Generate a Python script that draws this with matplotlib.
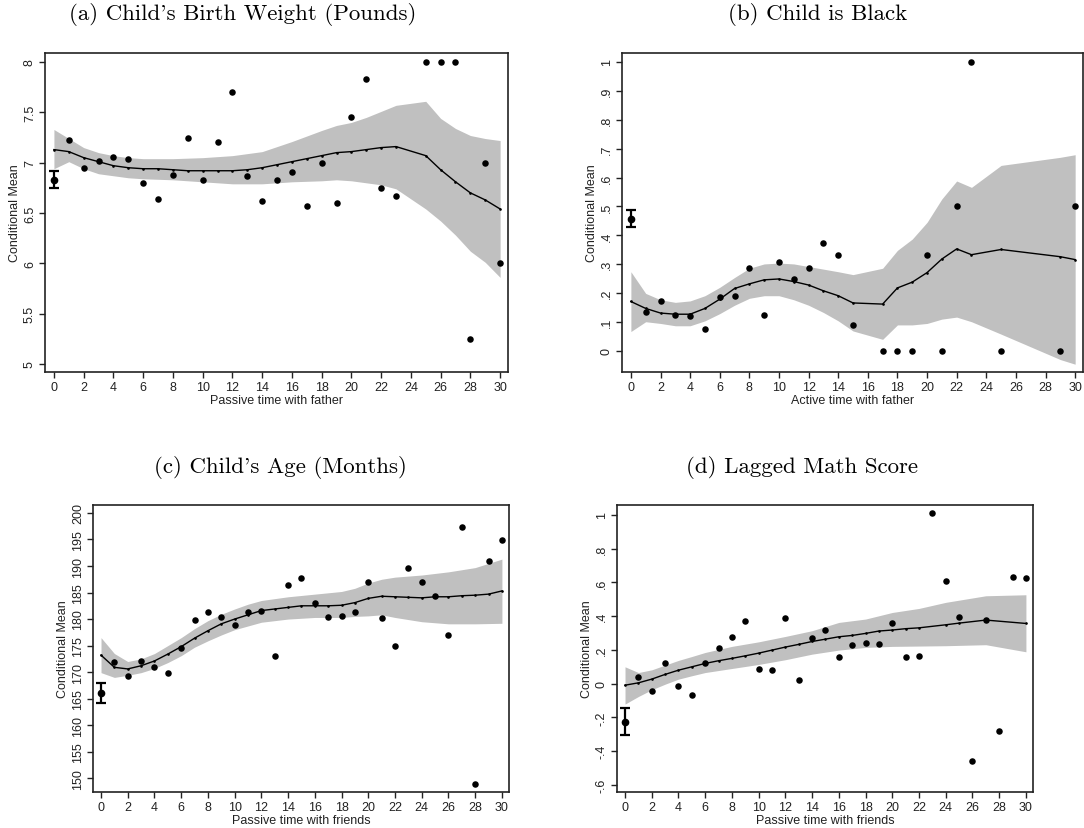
import numpy as np
import matplotlib
matplotlib.use("Agg")
import matplotlib.pyplot as plt

plt.rcParams["font.family"] = ["Liberation Sans", "DejaVu Sans"]

# ---------- data ----------
# (a) Child's Birth Weight (Pounds)
a_px = [1, 2, 3, 4, 5, 6, 7, 8, 9, 10, 11, 12, 13, 14, 15, 16, 17, 18, 19, 20,
        21, 22, 23, 25, 26, 27, 28, 29, 30]
a_py = [7.23, 6.95, 7.02, 7.06, 7.04, 6.80, 6.64, 6.88, 7.25, 6.83, 7.21, 7.70,
        6.87, 6.62, 6.83, 6.91, 6.57, 7.00, 6.60, 7.45, 7.83, 6.75, 6.67,
        8.0, 8.0, 8.0, 5.25, 7.0, 6.0]
a_lx = [0, 1, 2, 3, 4, 5, 6, 7, 8, 9, 10, 11, 12, 13, 14, 15, 16, 17, 18, 19,
        20, 21, 22, 23, 25, 26, 27, 28, 29, 30]
a_ly = [7.13, 7.11, 7.05, 7.01, 6.97, 6.95, 6.94, 6.94, 6.93, 6.92, 6.92, 6.92,
        6.92, 6.93, 6.95, 6.98, 7.01, 7.04, 7.07, 7.10, 7.11, 7.13, 7.15, 7.16,
        7.07, 6.93, 6.81, 6.70, 6.63, 6.54]
a_bx = [0, 1, 2, 3, 4, 5, 6, 8, 10, 12, 14, 16, 18, 19, 20, 21, 22, 23, 25, 26,
        27, 28, 29, 30]
a_hi = [7.33, 7.24, 7.15, 7.10, 7.07, 7.05, 7.04, 7.04, 7.05, 7.07, 7.11, 7.21,
        7.32, 7.37, 7.40, 7.45, 7.51, 7.57, 7.61, 7.44, 7.34, 7.27, 7.24, 7.22]
a_lo = [6.94, 7.01, 6.94, 6.89, 6.87, 6.85, 6.84, 6.83, 6.81, 6.79, 6.79, 6.81,
        6.82, 6.83, 6.82, 6.80, 6.78, 6.74, 6.54, 6.42, 6.28, 6.12, 6.01, 5.86]
a_zero = (6.83, 6.75, 6.92)

# (b) Child is Black
b_px = [1, 2, 3, 4, 5, 6, 7, 8, 9, 10, 11, 12, 13, 14, 15, 17, 18, 19, 20, 21,
        22, 23, 25, 29, 30]
b_py = [0.135, 0.172, 0.124, 0.121, 0.076, 0.186, 0.191, 0.286, 0.125, 0.309,
        0.250, 0.286, 0.375, 0.333, 0.090, 0.0, 0.0, 0.0, 0.333, 0.0,
        0.5, 1.0, 0.0, 0.0, 0.5]
b_lx = [0, 1, 2, 3, 4, 5, 6, 7, 8, 9, 10, 11, 12, 13, 14, 15, 17, 18, 19, 20,
        21, 22, 23, 25, 29, 30]
b_ly = [0.171, 0.147, 0.131, 0.127, 0.127, 0.147, 0.179, 0.216, 0.232, 0.246,
        0.249, 0.240, 0.228, 0.208, 0.191, 0.166, 0.162, 0.218, 0.238, 0.271,
        0.318, 0.353, 0.333, 0.351, 0.326, 0.316]
b_hi = [0.274, 0.199, 0.177, 0.168, 0.173, 0.191, 0.220, 0.254, 0.286, 0.301,
        0.304, 0.301, 0.292, 0.283, 0.274, 0.264, 0.286, 0.348, 0.387, 0.445,
        0.526, 0.588, 0.566, 0.642, 0.670, 0.679]
b_lo = [0.067, 0.101, 0.095, 0.087, 0.087, 0.104, 0.129, 0.158, 0.182, 0.191,
        0.191, 0.177, 0.158, 0.133, 0.104, 0.069, 0.040, 0.090, 0.090, 0.095,
        0.110, 0.117, 0.101, 0.058, -0.030, -0.046]
b_zero = (0.457, 0.429, 0.486)

# (c) Child's Age (Months)
c_px = list(range(1, 31))
c_py = [171.9, 169.2, 172.1, 171.0, 169.8, 174.5, 179.8, 181.3, 180.3, 178.9,
        181.4, 181.6, 173.0, 186.4, 187.7, 183.1, 180.4, 180.6, 181.4, 187.0,
        180.2, 175.0, 189.7, 187.0, 184.3, 177.0, 197.4, 148.9, 191.0, 194.9]
c_lx = list(range(0, 31))
c_ly = [173.2, 170.9, 170.6, 171.2, 172.1, 173.4, 174.8, 176.4, 177.8, 179.1,
        180.0, 180.8, 181.6, 181.9, 182.2, 182.5, 182.5, 182.5, 182.6, 183.1,
        183.9, 184.3, 184.2, 184.1, 184.0, 184.2, 184.2, 184.4, 184.5, 184.7,
        185.3]
c_bx = [0, 1, 2, 3, 4, 5, 6, 7, 8, 9, 10, 11, 12, 14, 16, 18, 19, 20, 21, 22,
        24, 26, 28, 30]
c_hi = [176.5, 173.5, 172.0, 172.5, 173.5, 175.0, 176.5, 178.2, 179.7, 180.9,
        181.9, 182.8, 183.5, 184.2, 184.7, 185.2, 185.8, 186.8, 187.5, 187.9,
        188.3, 188.9, 189.7, 191.3]
c_lo = [169.9, 169.0, 169.4, 169.9, 170.7, 171.8, 173.1, 174.7, 175.9, 177.0,
        178.0, 178.7, 179.4, 180.0, 180.3, 180.3, 180.5, 180.6, 180.8, 180.3,
        179.5, 179.1, 179.1, 179.2]
c_zero = (166.0, 164.2, 168.0)

# (d) Lagged Math Score
d_px = list(range(1, 31))
d_py = [0.039, -0.046, 0.124, -0.013, -0.070, 0.124, 0.213, 0.276, 0.369, 0.088,
        0.082, 0.387, 0.023, 0.272, 0.318, 0.161, 0.229, 0.241, 0.235, 0.361,
        0.161, 0.163, 1.014, 0.608, 0.395, -0.458, 0.379, -0.282, 0.634, 0.628]
d_lx = [0, 1, 2, 3, 4, 5, 6, 7, 8, 9, 10, 11, 12, 13, 14, 15, 16, 17, 18, 19,
        20, 21, 22, 24, 25, 27, 30]
d_ly = [-0.009, 0.005, 0.027, 0.055, 0.080, 0.100, 0.120, 0.136, 0.150, 0.165,
        0.181, 0.199, 0.217, 0.233, 0.250, 0.264, 0.278, 0.286, 0.298, 0.312,
        0.318, 0.326, 0.331, 0.349, 0.359, 0.377, 0.357]
d_bx = [0, 1, 2, 3, 4, 5, 6, 8, 10, 12, 14, 16, 18, 20, 22, 24, 27, 30]
d_hi = [0.100, 0.066, 0.082, 0.110, 0.138, 0.161, 0.185, 0.221, 0.248, 0.280,
        0.314, 0.363, 0.383, 0.422, 0.446, 0.482, 0.521, 0.527]
d_lo = [-0.121, -0.076, -0.036, -0.003, 0.027, 0.047, 0.066, 0.090, 0.114,
        0.142, 0.175, 0.199, 0.215, 0.221, 0.223, 0.225, 0.231, 0.189]
d_zero = (-0.226, -0.305, -0.147)

panels = [
    ("(a) Child's Birth Weight (Pounds)", "Passive time with father",
     a_px, a_py, a_lx, a_ly, a_bx, a_hi, a_lo, a_zero,
     [5, 5.5, 6, 6.5, 7, 7.5, 8], ["5", "5.5", "6", "6.5", "7", "7.5", "8"],
     (4.92, 8.09), (45, 508, 54, 373), (243, 15)),
    ("(b) Child is Black", "Active time with father",
     b_px, b_py, b_lx, b_ly, b_lx, b_hi, b_lo, b_zero,
     [0, .1, .2, .3, .4, .5, .6, .7, .8, .9, 1],
     ["0", ".1", ".2", ".3", ".4", ".5", ".6", ".7", ".8", ".9", "1"],
     (-0.073, 1.031), (622, 1083, 54, 373), (818, 15)),
    ("(c) Child's Age (Months)", "Passive time with friends",
     c_px, c_py, c_lx, c_ly, c_bx, c_hi, c_lo, c_zero,
     list(range(150, 201, 5)), [str(v) for v in range(150, 201, 5)],
     (147.4, 201.5), (93, 509, 506, 793), (280, 468)),
    ("(d) Lagged Math Score", "Passive time with friends",
     d_px, d_py, d_lx, d_ly, d_bx, d_hi, d_lo, d_zero,
     [-.6, -.4, -.2, 0, .2, .4, .6, .8, 1],
     ["-.6", "-.4", "-.2", "0", ".2", ".4", ".6", ".8", "1"],
     (-0.642, 1.059), (617, 1033, 506, 793), (802, 468)),
]

W, H = 1084, 829
fig = plt.figure(figsize=(W / 100, H / 100), dpi=100)

for (title, xlabel, px, py, lx, ly, bx, hi, lo, zero,
     yt, ytl, ylim, box, tpos) in panels:
    l, r, t, b = box
    ax = fig.add_axes([l / W, (H - b) / H, (r - l) / W, (b - t) / H])
    ax.fill_between(bx, lo, hi, color="#c0c0c0", lw=0, zorder=1)
    ax.plot(lx, ly, color="black", lw=1.0, marker=".", ms=1.8, zorder=3)
    ax.scatter(px, py, s=22, color="black", zorder=4, linewidths=0)
    ax.errorbar([0], [zero[0]], yerr=[[zero[0] - zero[1]], [zero[2] - zero[0]]],
                fmt="o", color="black", ms=4.5, elinewidth=1.6, capsize=3.5,
                capthick=1.6, zorder=5)
    ax.set_xlim(-0.6, 30.53)
    ax.set_ylim(*ylim)
    ax.set_xticks(range(0, 31, 2))
    ax.set_yticks(yt)
    ax.set_yticklabels(ytl, rotation=90, va="center")
    ax.tick_params(direction="out", length=4.5, width=1.0, labelsize=9,
                   colors="#222222", pad=2)
    for s in ax.spines.values():
        s.set_linewidth(1.2)
        s.set_color("#222222")
    ax.set_xlabel(xlabel, fontsize=9, labelpad=1, color="#222222")
    ax.set_ylabel("Conditional Mean", fontsize=9, labelpad=2, color="#222222")
    fig.text(tpos[0] / W, 1 - tpos[1] / H, title, family=["cmr10", "DejaVu Serif"],
             fontsize=16.5, ha="center", va="center")

fig.savefig("out.png", dpi=100)
